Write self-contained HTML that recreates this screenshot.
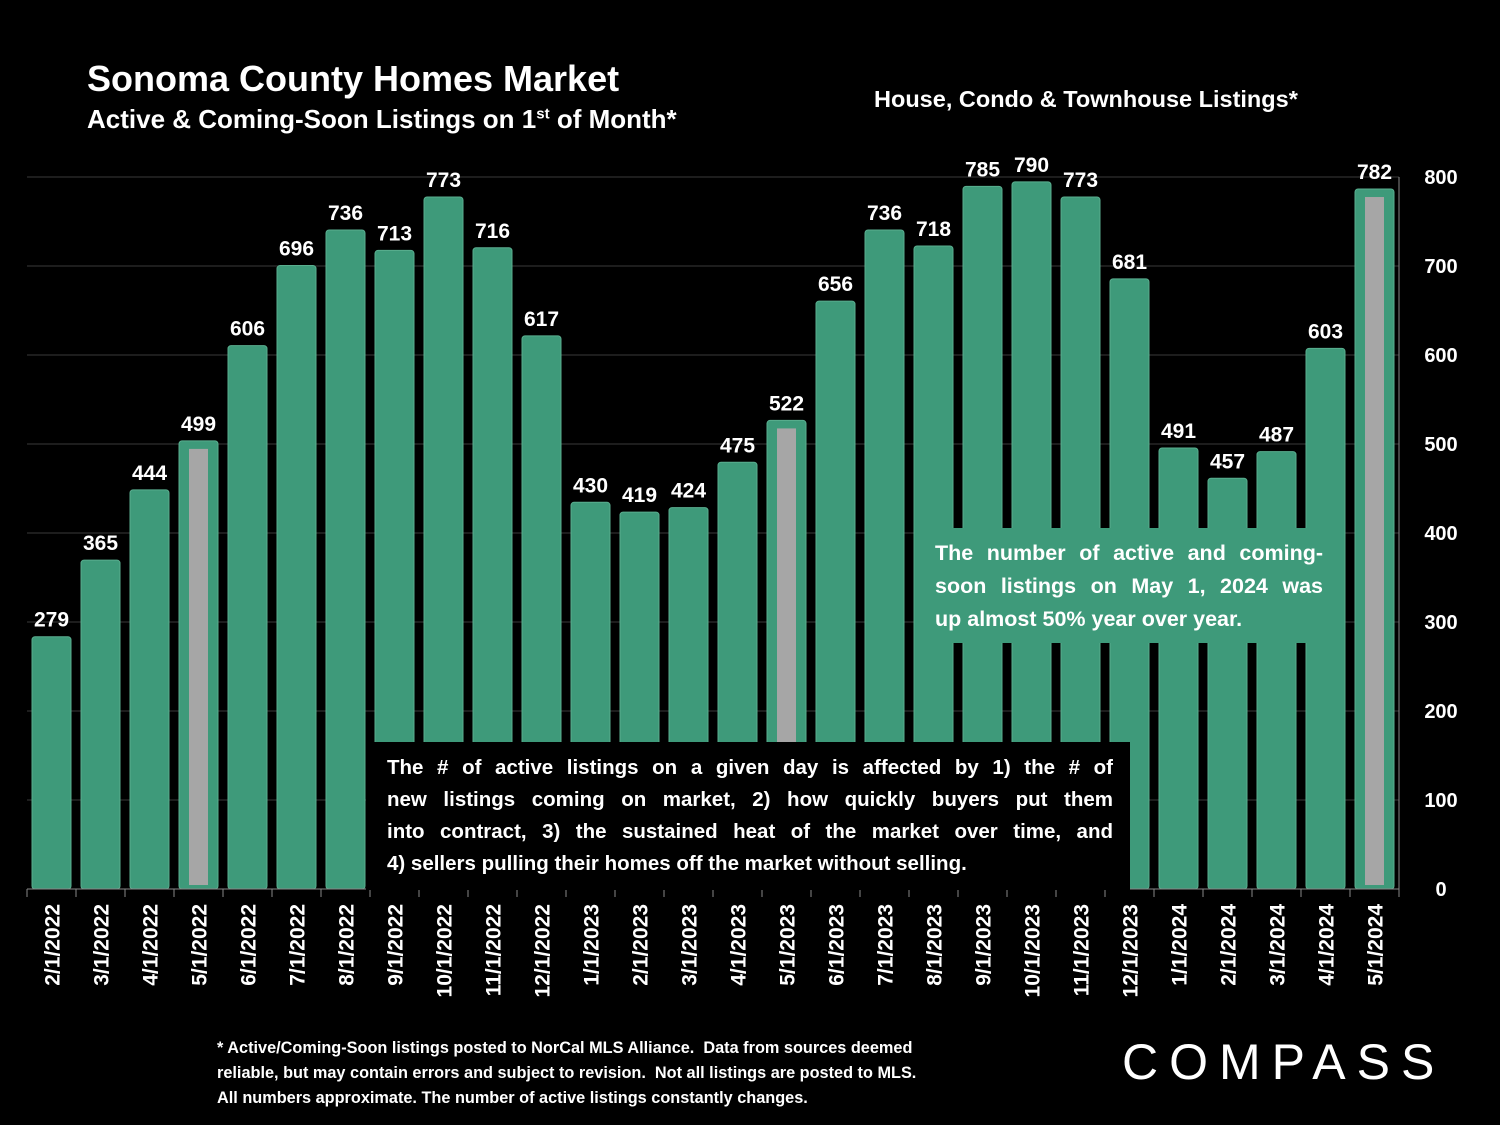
<!DOCTYPE html>
<html><head><meta charset="utf-8"><style>
html,body{margin:0;padding:0;background:#000;}
body{width:1500px;height:1125px;position:relative;overflow:hidden;font-family:"Liberation Sans",sans-serif;color:#fff;}
.t{position:absolute;white-space:nowrap;font-weight:bold;}
.j{display:block;text-align:justify;text-align-last:justify;}
.jl{display:block;text-align:left;}
</style></head><body>
<div class="t" style="left:87px;top:58px;font-size:36px;">Sonoma County Homes Market</div>
<div class="t" style="left:87px;top:104px;font-size:26px;">Active &amp; Coming-Soon Listings on 1<sup style="font-size:15px">st</sup> of Month*</div>
<div class="t" style="left:874px;top:86px;font-size:23.5px;">House, Condo &amp; Townhouse Listings*</div>
<svg id="chart" width="1500" height="1125" style="position:absolute;left:0;top:0"></svg>
<div style="position:absolute;left:366px;top:742px;width:764px;height:148px;background:#000;"></div>
<div class="t" style="left:387px;top:752px;font-size:20.5px;line-height:32px;white-space:normal;width:726px;">
<span class="j">The # of active listings on a given day is affected by 1) the # of</span>
<span class="j">new listings coming on market, 2) how quickly buyers put them</span>
<span class="j">into contract, 3) the sustained heat of the market over time, and</span>
<span class="jl">4) sellers pulling their homes off the market without selling.</span></div>
<div style="position:absolute;left:918px;top:528px;width:418px;height:115px;background:#3e9a7a;"></div>
<div class="t" style="left:935px;top:537px;font-size:21.5px;line-height:33px;white-space:normal;width:388px;">
<span class="j">The number of active and coming-</span>
<span class="j">soon listings on May 1, 2024 was</span>
<span class="jl">up almost 50% year over year.</span></div>
<div class="t" style="left:217px;top:1036px;font-size:16.3px;line-height:25px;font-weight:bold;">* Active/Coming-Soon listings posted to NorCal MLS Alliance.&nbsp; Data from sources deemed<br>reliable, but may contain errors and subject to revision.&nbsp; Not all listings are posted to MLS.<br>All numbers approximate. The number of active listings constantly changes.</div>
<div class="t" style="left:1122px;top:1033px;font-size:50px;font-weight:normal;letter-spacing:11px;">COMPASS</div>
<script>
const categories=["2/1/2022","3/1/2022","4/1/2022","5/1/2022","6/1/2022","7/1/2022","8/1/2022","9/1/2022","10/1/2022","11/1/2022","12/1/2022","1/1/2023","2/1/2023","3/1/2023","4/1/2023","5/1/2023","6/1/2023","7/1/2023","8/1/2023","9/1/2023","10/1/2023","11/1/2023","12/1/2023","1/1/2024","2/1/2024","3/1/2024","4/1/2024","5/1/2024"];
const values=[279,365,444,499,606,696,736,713,773,716,617,430,419,424,475,522,656,736,718,785,790,773,681,491,457,487,603,782];
const highlighted=["5/1/2022","5/1/2023","5/1/2024"];
const yTicks=[0,100,200,300,400,500,600,700,800];
const svg=document.getElementById('chart');
const NS='http://www.w3.org/2000/svg';
const L=27,R=1399,Y0=889,Ymax=177;
const y=v=>Y0-(v/800)*(Y0-Ymax);
const bw=(R-L)/categories.length;
const x=i=>L+i*bw;
function mk(t,a){const e=document.createElementNS(NS,t);for(const k in a)e.setAttribute(k,a[k]);svg.appendChild(e);return e;}
yTicks.forEach(v=>{
  if(v>0){const g=mk('line',{x1:L,x2:R,y1:y(v),y2:y(v),stroke:'#3a3a3a','stroke-width':1});
  
  }
  const t=mk('text',{x:1441,y:y(v)+7,'text-anchor':'middle','font-size':20,'font-weight':'bold',fill:'#fff','font-family':'Liberation Sans'});
  t.textContent=v;
  
  
});
values.forEach((v,i)=>{
  const bx=x(i)+5,w=bw-10;
  const top=y(v)-4;
  const r=mk('rect',{x:bx,y:top,width:w,height:Y0-top,rx:3,fill:'#3e9a7a',stroke:'#5aae8f','stroke-width':1});
  
  
  if(highlighted.includes(categories[i])){
    const g=mk('rect',{x:bx+10,y:top+8,width:w-20,height:Y0-top-12,fill:'#a6a6a6'});
    
    
  }
  const t=mk('text',{x:bx+w/2,y:top-10,'text-anchor':'middle','font-size':21,'font-weight':'bold',fill:'#fff','font-family':'Liberation Sans'});
  t.textContent=v;
  
  
  const cx=x(i)+bw/2;
  const lt=mk('text',{x:0,y:0,'text-anchor':'end','font-size':21,'font-weight':'bold',fill:'#fff','font-family':'Liberation Sans',transform:`translate(${cx+8},${904}) rotate(-90)`});
  lt.textContent=categories[i];
  
  
});
for(let i=0;i<=categories.length;i++){
  const tk=mk('line',{x1:x(i),x2:x(i),y1:Y0,y2:Y0+8,stroke:'#888','stroke-width':1});
  
  
}
const ax=mk('line',{x1:L,x2:R,y1:Y0,y2:Y0,stroke:'#888','stroke-width':1});


const ay=mk('line',{x1:R,x2:R,y1:Ymax,y2:Y0,stroke:'#888','stroke-width':1});


</script>
</body></html>
